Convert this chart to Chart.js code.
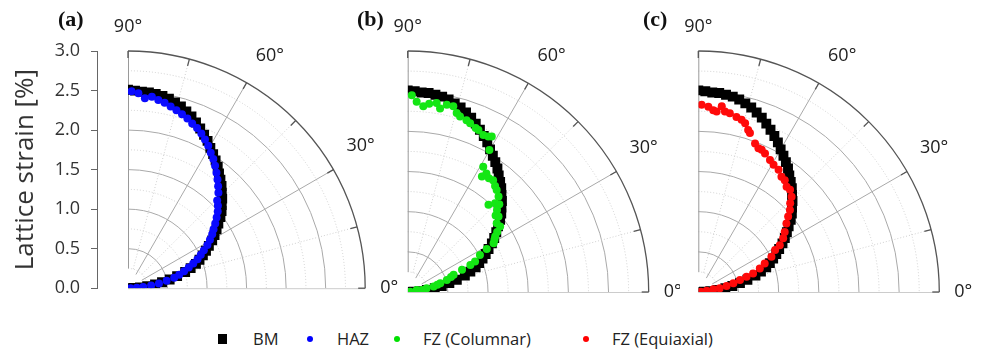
<!DOCTYPE html>
<html>
<head>
<meta charset="utf-8">
<script src="https://cdn.jsdelivr.net/npm/chart.js@4.4.1/dist/chart.umd.min.js"></script>
<style>
  html, body { margin: 0; padding: 0; background: #fff; }
  #fig { position: relative; width: 984px; height: 354px; overflow: hidden; font-family: "Open Sans", sans-serif; color: #222; }
  #fig canvas { position: absolute; top: 0; }
  .tag { position: absolute; top: 6px; font: bold 22px "Liberation Serif", serif; color: #111; }
  .lg { position: absolute; top: 327px; font-size: 16.5px; line-height: 24px; color: #222; }
  .mk { position: absolute; }
</style>
</head>
<body>
<div id="fig">
  <canvas id="panelA" width="405" height="310" style="left:0px"></canvas>
  <canvas id="panelB" width="340" height="310" style="left:340px"></canvas>
  <canvas id="panelC" width="344" height="310" style="left:640px"></canvas>
  <span class="tag" style="left:58px">(a)</span>
  <span class="tag" style="left:357px">(b)</span>
  <span class="tag" style="left:643px">(c)</span>

  <span class="mk" style="left:218px;top:334px;width:9px;height:10px;background:#000"></span>
  <span class="lg" style="left:253px">BM</span>
  <span class="mk" style="left:307px;top:336px;width:6px;height:6px;border-radius:50%;background:#0000ff"></span>
  <span class="lg" style="left:337px">HAZ</span>
  <span class="mk" style="left:394px;top:336px;width:6px;height:6px;border-radius:50%;background:#00e000"></span>
  <span class="lg" style="left:423px">FZ (Columnar)</span>
  <span class="mk" style="left:583px;top:336px;width:6px;height:6px;border-radius:50%;background:#ff0000"></span>
  <span class="lg" style="left:612px">FZ (Equiaxial)</span>
</div>
<script>
// angle (deg) / lattice strain (%)
const BM_DEG = [0, 2, 4, 6, 8, 10, 12, 14, 16, 18, 20, 22, 24, 26, 28, 30, 32, 34, 36, 38, 40, 42, 44, 46,
  48, 50, 52, 54, 56, 58, 60, 62, 64, 66, 68, 70, 72, 74, 76, 78, 80, 82, 84, 86, 88, 90];
const BM_STRAIN = [0.00, 0.07, 0.15, 0.24, 0.34, 0.43, 0.53, 0.63, 0.74, 0.82, 0.90, 0.96, 1.02, 1.08, 1.14, 1.21,
  1.27, 1.33, 1.39, 1.46, 1.52, 1.57, 1.63, 1.68, 1.74, 1.79, 1.84, 1.90, 1.95, 2.00, 2.05, 2.11, 2.16, 2.21,
  2.26, 2.31, 2.35, 2.39, 2.42, 2.45, 2.47, 2.48, 2.49, 2.49, 2.50, 2.51];

const HAZ_DEG = [1, 3, 5, 7, 9, 11, 13, 15, 17, 19, 21, 23, 25, 27, 29, 31, 33, 35, 37, 39, 41, 43, 45,
  47, 49, 51, 53, 55, 57, 59, 61, 63, 65, 67, 69, 71, 73, 75, 77, 79, 81, 83, 85, 87, 89];
const HAZ_STRAIN = [0.03, 0.11, 0.19, 0.29, 0.39, 0.49, 0.59, 0.66, 0.73, 0.80, 0.87, 0.94, 1.00, 1.06, 1.13,
  1.19, 1.25, 1.30, 1.36, 1.42, 1.48, 1.53, 1.57, 1.65, 1.71, 1.77, 1.83, 1.89, 1.95, 2.00, 2.06, 2.11, 2.16,
  2.20, 2.23, 2.27, 2.30, 2.33, 2.36, 2.39, 2.41, 2.44, 2.41, 2.47, 2.49];

const COL_DEG = [88.8, 87.3, 85.2, 83.5, 81.3, 80.0, 78.2, 76.2, 74.7, 73.4, 71.1, 69.7, 67.5, 66.4, 64.3, 62.6,
  61.6, 60.1, 58.9, 57.3, 56.4, 54.5, 52.6, 50.5, 48.9, 47.2, 46.4, 45.4, 43.8, 42.6, 41.0, 39.7, 37.7, 35.3,
  33.8, 32.4, 31.0, 29.6, 28.5, 27.1, 24.3, 23.4, 22.2, 20.5, 19.0, 17.1, 15.0, 13.5, 11.7, 11.0, 8.0, 12.6, 5.0];
const COL_STRAIN = [2.45, 2.37, 2.32, 2.36, 2.38, 2.32, 2.38, 2.38, 2.31, 2.28, 2.26, 2.24, 2.21, 2.20, 2.17, 2.18,
  2.20, 2.04, 1.82, 1.71, 1.77, 1.74, 1.75, 1.71, 1.685, 1.48, 1.64, 1.55, 1.58, 1.51, 1.45, 1.47, 1.40, 1.41,
  1.34, 1.29, 1.26, 1.23, 1.12, 1.01, 0.92, 0.85, 0.73, 0.61, 0.57, 0.51, 0.42, 0.38, 0.33, 0.24, 0.18, 0.115, 0.03];

const EQX_DEG = [89.0, 86.9, 85.3, 84.2, 82.8, 81.6, 80.0, 77.7, 75.9, 74.5, 72.9, 72.0, 69.1, 67.3, 66.0, 64.3,
  61.5, 59.4, 56.7, 54.2, 52.3, 50.0, 48.1, 45.6, 44.0, 41.8, 40.0, 37.9, 34.8, 32.3, 29.9, 28.7, 25.7, 23.3,
  21.0, 18.7, 17.6, 16.0, 13.9, 12.0, 9.7, 10.0, 9.3, 8.0];
const EQX_STRAIN = [2.33, 2.31, 2.27, 2.26, 2.33, 2.27, 2.26, 2.23, 2.21, 2.18, 2.11, 2.08, 1.98, 1.94, 1.94, 1.915,
  1.87, 1.84, 1.82, 1.77, 1.76, 1.71, 1.71, 1.66, 1.59, 1.53, 1.46, 1.39, 1.31, 1.25, 1.17, 1.09, 1.01, 0.90,
  0.82, 0.72, 0.63, 0.54, 0.45, 0.36, 0.27, 0.19, 0.105, 0.03];

const STRAIN_MAX = 3.0;
const ANGLE_TICKS = [0, 30, 60, 90];
const ANGLE_LABELS = ['0°', '30°', '60°', '90°'];

// polar (deg, strain) -> x/y points for the scatter scales
function toXY(deg, strain) {
  return deg.map((d, i) => {
    const t = d * Math.PI / 180;
    return { x: strain[i] * Math.cos(t), y: strain[i] * Math.sin(t) };
  });
}

// quarter polar grid, clipped data, angle labels
const polarGrid = {
  id: 'polarGrid',
  beforeDatasetsDraw(chart) {
    const { ctx, chartArea, scales: { x, y } } = chart;
    const ox = x.getPixelForValue(0), oy = y.getPixelForValue(0);
    const rp = v => oy - y.getPixelForValue(v);
    const R = rp(STRAIN_MAX);
    ctx.save();
    ctx.lineWidth = 1;
    // rings every 0.25, solid every 0.5
    for (let k = 1; k < 12; k++) {
      const major = k % 2 === 0;
      ctx.setLineDash(major ? [] : [1, 2]);
      ctx.strokeStyle = major ? '#a9a9a9' : '#cfcfcf';
      ctx.beginPath();
      ctx.arc(ox, oy, rp(k * 0.25), -Math.PI / 2, 0);
      ctx.stroke();
    }
    // spokes
    for (let a = 15; a < 90; a += 15) {
      const major = a % 30 === 0;
      const t = a * Math.PI / 180;
      ctx.setLineDash(major ? [] : [1, 2]);
      ctx.strokeStyle = major ? '#a9a9a9' : '#cfcfcf';
      const r0 = rp(major ? 0.2 : 0.25);
      ctx.beginPath();
      ctx.moveTo(ox + r0 * Math.cos(t), oy - r0 * Math.sin(t));
      ctx.lineTo(ox + R * Math.cos(t), oy - R * Math.sin(t));
      ctx.stroke();
    }
    ctx.setLineDash([]);
    // 0 deg baseline and 90 deg edge
    ctx.strokeStyle = '#cccccc';
    ctx.beginPath();
    ctx.moveTo(ox, oy + 0.5);
    ctx.lineTo(ox + R, oy + 0.5);
    ctx.stroke();
    ctx.strokeStyle = '#9a9a9a';
    ctx.beginPath();
    ctx.moveTo(ox + 0.5, oy - rp(0.25));
    ctx.lineTo(ox + 0.5, oy - R);
    ctx.stroke();
    // outer arc with inward ticks
    ctx.strokeStyle = '#555';
    ctx.lineWidth = 1.3;
    ctx.beginPath();
    ctx.arc(ox, oy, R, -Math.PI / 2, 0);
    ctx.stroke();
    for (let a = 0; a <= 90; a += 15) {
      const t = a * Math.PI / 180;
      ctx.beginPath();
      ctx.moveTo(ox + R * Math.cos(t), oy - R * Math.sin(t));
      ctx.lineTo(ox + (R - 7) * Math.cos(t), oy - (R - 7) * Math.sin(t));
      ctx.stroke();
    }
    ctx.restore();

    ctx.save();
    ctx.beginPath();
    ctx.rect(ox, chartArea.top - 10, chartArea.right - ox + 10, oy - chartArea.top + 10);
    ctx.clip();
  },
  afterDatasetsDraw(chart) {
    const { ctx, scales: { x, y } } = chart;
    ctx.restore();
    const ox = x.getPixelForValue(0), oy = y.getPixelForValue(0);
    const R = oy - y.getPixelForValue(STRAIN_MAX);
    ctx.save();
    ctx.font = '18px "Open Sans"';
    ctx.fillStyle = '#222';
    ctx.textAlign = 'center';
    ctx.textBaseline = 'middle';
    ANGLE_TICKS.forEach((a, i) => {
      const t0 = a * Math.PI / 180;
      const t = t0 + 0.028 * Math.sin(4 * t0);
      const d = R + 24 + 13 * Math.sin(2 * t0);
      ctx.fillText(ANGLE_LABELS[i], ox + d * Math.cos(t), oy - d * Math.sin(t));
    });
    ctx.restore();
  }
};

const bmSet = {
  label: 'BM',
  data: toXY(BM_DEG, BM_STRAIN),
  pointStyle: 'rect',
  pointRadius: 7,
  backgroundColor: '#000',
  borderWidth: 0,
  order: 2
};

function dotSet(label, deg, strain, color) {
  return {
    label,
    data: toXY(deg, strain),
    pointStyle: 'circle',
    pointRadius: 4,
    backgroundColor: color,
    borderWidth: 0,
    order: 1
  };
}

function makePanel(id, sets, xMin, pad, withAxis) {
  const yAxis = { type: 'linear', min: 0, max: STRAIN_MAX, display: false };
  if (withAxis) {
    Object.assign(yAxis, {
      display: true,
      afterFit: s => { s.width = 97; },
      border: { color: '#666' },
      grid: { drawOnChartArea: false, tickLength: 6, color: '#666' },
      ticks: {
        stepSize: 0.25,
        padding: 11,
        color: '#333',
        font: { family: 'Open Sans', size: 18 },
        callback: v => (Math.abs(v * 2 - Math.round(v * 2)) < 1e-6 ? v.toFixed(1) : '')
      },
      title: {
        display: true,
        text: 'Lattice strain [%]',
        color: '#333',
        font: { family: 'Open Sans', size: 26 },
        padding: { top: 10, bottom: 0 }
      }
    });
  }
  new Chart(document.getElementById(id), {
    type: 'scatter',
    data: { datasets: sets },
    options: {
      responsive: false,
      animation: false,
      events: [],
      layout: { padding: pad },
      plugins: { legend: { display: false }, tooltip: { enabled: false } },
      scales: {
        x: { type: 'linear', min: xMin, max: STRAIN_MAX, display: false },
        y: yAxis
      }
    },
    plugins: [polarGrid]
  });
}

makePanel('panelA', [dotSet('HAZ', HAZ_DEG, HAZ_STRAIN, '#0a0aff'), bmSet], -31 / 80.333,
  { top: 51, bottom: 18, left: 0, right: 36 }, true);
makePanel('panelB', [dotSet('FZ (Columnar)', COL_DEG, COL_STRAIN, '#14e614'), { ...bmSet }], 0,
  { top: 51, bottom: 18, left: 67.7, right: 31.3 }, false);
makePanel('panelC', [dotSet('FZ (Equiaxial)', EQX_DEG, EQX_STRAIN, '#ff0a0a'), { ...bmSet }], 0,
  { top: 51, bottom: 18, left: 58.3, right: 44.7 }, false);
</script>
</body>
</html>
